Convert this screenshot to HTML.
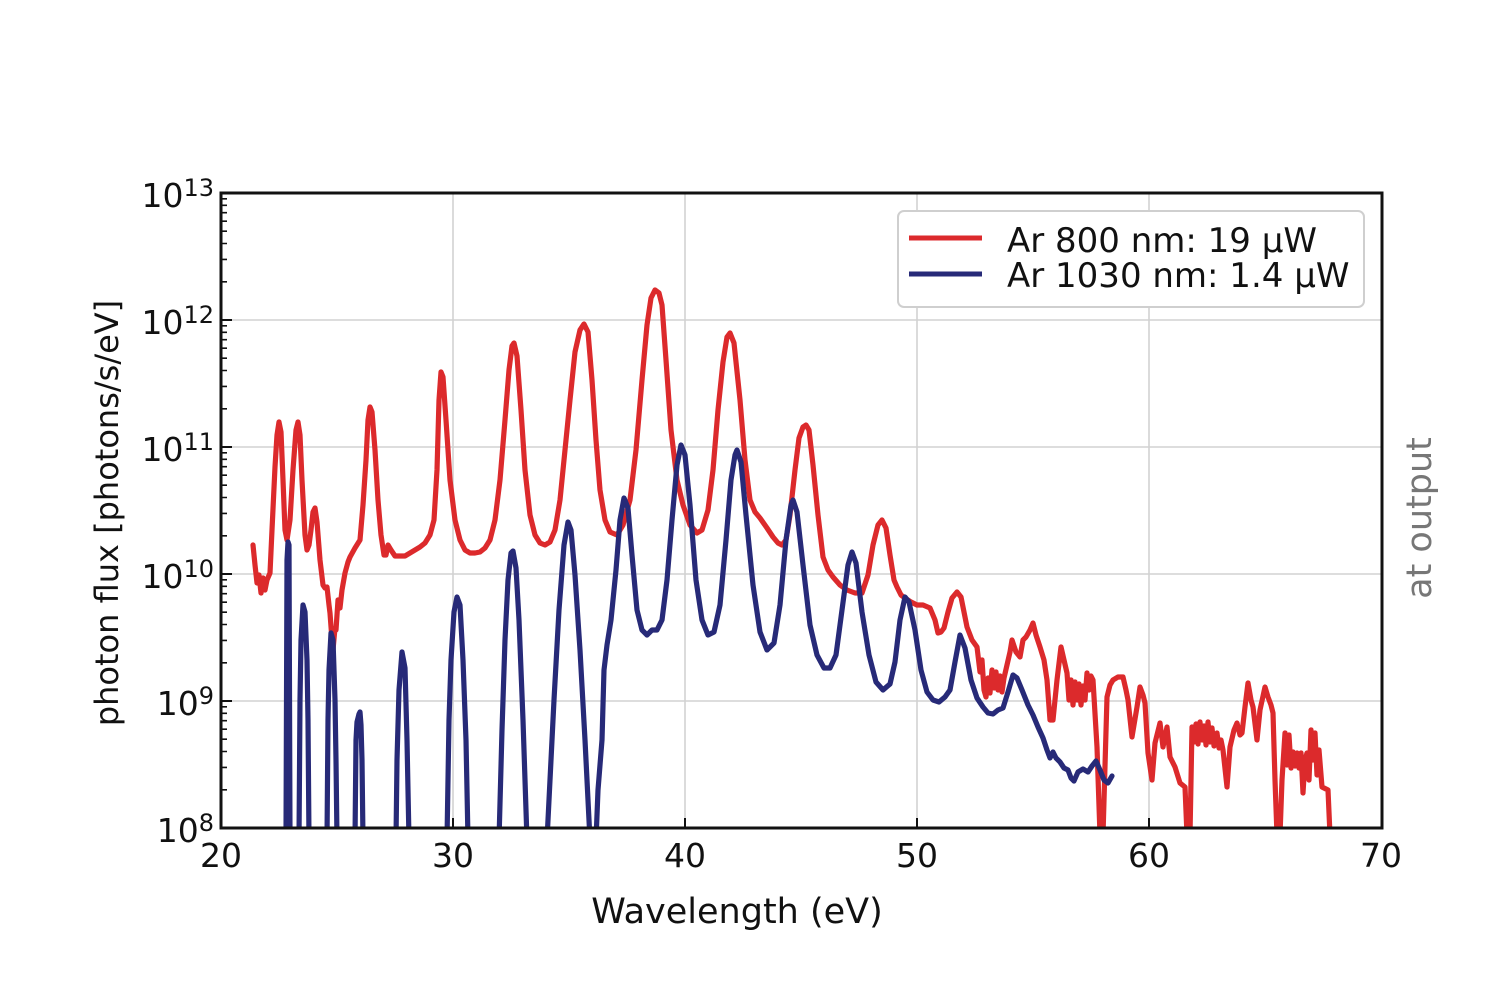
<!DOCTYPE html>
<html><head><meta charset="utf-8"><style>
html,body{margin:0;padding:0;background:#fff;}
svg{display:block;}
text{font-family:"DejaVu Sans","Liberation Sans",sans-serif;fill:#111;}
</style></head><body>
<svg width="1500" height="1000" viewBox="0 0 1500 1000" xmlns="http://www.w3.org/2000/svg">
<defs><clipPath id="pa"><rect x="221" y="193" width="1161" height="635"/></clipPath></defs>
<rect x="0" y="0" width="1500" height="1000" fill="#fff"/>
<!-- grid -->
<g stroke="#d2d2d2" stroke-width="1.6">
<line x1="453" y1="193" x2="453" y2="828"/><line x1="685" y1="193" x2="685" y2="828"/>
<line x1="917" y1="193" x2="917" y2="828"/><line x1="1149" y1="193" x2="1149" y2="828"/>
<line x1="221" y1="320" x2="1382" y2="320"/><line x1="221" y1="447" x2="1382" y2="447"/>
<line x1="221" y1="574" x2="1382" y2="574"/><line x1="221" y1="701" x2="1382" y2="701"/>
</g>
<g clip-path="url(#pa)" fill="none" stroke-linejoin="round" stroke-linecap="round" stroke-width="5.2">
<path stroke="#dc2a2c" d="M253,545 L255,565 L257,583 L259,575 L261,593 L263,578 L265,590 L267,580 L270,573 L272,530 L275,467 L277,435 L279,422 L281,432 L283,480 L285,530 L287,540 L290,520 L293,470 L296,430 L298,422 L300,435 L302,480 L305,535 L307,550 L309,545 L311,530 L313,512 L315,508 L317,522 L320,560 L323,585 L325,588 L327,587 L329,605 L330,613 L332,640 L333,650 L335,628 L336,630 L338,600 L340,608 L342,590 L345,573 L348,562 L350,557 L355,548 L360,540 L363,505 L366,460 L368,420 L370,407 L372,412 L375,450 L378,500 L381,535 L384,555 L386,555 L388,545 L391,550 L395,556 L400,556 L405,556 L410,553 L415,550 L420,547 L425,543 L430,535 L434,520 L437,470 L439,400 L441,372 L443,377 L446,420 L450,480 L455,520 L460,540 L465,550 L470,553 L475,553 L480,552 L485,548 L490,540 L495,520 L500,480 L505,420 L509,370 L512,346 L514,343 L517,356 L521,410 L525,470 L530,515 L535,535 L540,543 L545,545 L550,542 L555,530 L560,500 L565,450 L570,400 L575,352 L580,330 L584,324 L588,332 L592,380 L596,440 L600,490 L605,520 L610,532 L617,535 L623,525 L630,500 L636,450 L642,380 L647,325 L651,298 L655,290 L659,293 L662,305 L666,360 L671,430 L677,480 L683,505 L690,525 L697,533 L702,530 L708,510 L713,470 L718,410 L723,362 L727,337 L730,333 L734,343 L740,400 L745,460 L750,500 L755,512 L760,518 L767,528 L773,537 L778,543 L782,545 L786,540 L790,515 L795,470 L799,438 L803,427 L806,425 L809,430 L813,465 L818,515 L823,557 L828,570 L833,577 L840,585 L847,590 L855,593 L862,593 L868,575 L873,545 L878,525 L882,520 L886,528 L890,555 L894,580 L897,587 L901,595 L905,598 L911,602 L917,605 L923,605 L930,608 L935,620 L938,633 L941,632 L944,628 L948,612 L952,598 L957,592 L961,597 L964,612 L967,627 L972,640 L977,647 L980,672 L982,660 L984,690 L986,697 L988,678 L990,693 L992,670 L994,688 L996,672 L998,690 L1000,676 L1002,692 L1004,678 L1007,665 L1010,652 L1012,640 L1016,652 L1020,657 L1023,640 L1026,637 L1030,630 L1033,623 L1036,635 L1040,647 L1044,660 L1047,680 L1050,720 L1053,720 L1057,680 L1061,647 L1064,660 L1067,673 L1069,700 L1071,680 L1073,705 L1075,682 L1077,700 L1079,684 L1081,705 L1083,686 L1085,700 L1087,673 L1089,690 L1091,676 L1093,680 L1097,747 L1100,835 L1103,835 L1107,697 L1110,685 L1113,680 L1118,677 L1123,677 L1126,690 L1128,700 L1132,737 L1137,707 L1140,687 L1143,695 L1145,703 L1148,753 L1152,780 L1155,743 L1160,723 L1163,747 L1167,727 L1170,757 L1175,767 L1180,783 L1185,787 L1187,835 L1190,835 L1192,727 L1194,742 L1196,724 L1198,744 L1200,722 L1202,740 L1204,726 L1206,745 L1208,722 L1210,742 L1212,728 L1214,746 L1217,733 L1219,748 L1221,740 L1223,750 L1227,787 L1230,747 L1234,730 L1237,723 L1240,735 L1242,733 L1245,707 L1248,683 L1251,700 L1253,707 L1257,740 L1260,710 L1265,687 L1268,697 L1271,705 L1273,713 L1275,780 L1277,835 L1280,835 L1282,780 L1285,733 L1287,765 L1289,735 L1291,768 L1293,752 L1295,766 L1297,753 L1299,768 L1301,753 L1303,793 L1305,760 L1307,753 L1309,780 L1311,730 L1313,760 L1315,733 L1317,775 L1319,750 L1322,787 L1328,790 L1330,835"/>
<path stroke="#272a78" d="M286,840 L287,560 L288,542 L289,545 L290,840 M299,840 L300,700 L301,640 L303,605 L305,612 L307,660 L308,720 L309,840 M327,840 L328,720 L329,670 L331,633 L333,640 L335,700 L336,760 L337,840 M355,840 L356,740 L357,722 L358,718 L359,714 L360,712 L361,725 L362,760 L363,840 M396,840 L397,760 L399,690 L402,652 L405,668 L407,740 L409,840 M447,840 L449,720 L451,660 L454,612 L457,597 L460,605 L463,660 L466,740 L468,840 M499,840 L502,730 L505,640 L508,580 L511,553 L513,551 L516,568 L519,620 L523,720 L527,840 M547,840 L550,780 L554,700 L559,610 L564,545 L568,522 L571,530 L575,575 L580,650 L585,740 L590,840 M596,840 L598,790 L600,765 L602,740 L604,670 L607,645 L611,620 L616,570 L620,520 L624,498 L628,508 L632,555 L637,610 L642,630 L647,635 L652,630 L657,630 L662,620 L667,580 L672,520 L677,465 L681,445 L685,455 L690,505 L696,580 L702,620 L708,635 L714,632 L720,605 L726,540 L731,480 L735,455 L737,450 L741,462 L746,515 L753,585 L760,632 L767,650 L774,643 L780,605 L786,540 L791,505 L793,500 L797,512 L803,565 L810,625 L817,655 L824,668 L830,668 L836,655 L842,610 L848,565 L852,552 L856,563 L862,612 L869,655 L876,682 L883,690 L890,684 L895,662 L900,620 L905,597 L909,602 L915,630 L921,670 L927,692 L933,700 L939,702 L945,697 L950,690 L955,662 L960,635 L965,648 L971,680 L977,698 L983,707 L988,713 L993,714 L998,710 L1003,708 L1008,692 L1013,675 L1017,678 L1022,690 L1028,705 L1033,715 L1038,727 L1043,738 L1047,750 L1050,758 L1053,752 L1056,758 L1060,762 L1064,768 L1068,770 L1071,778 L1074,781 L1078,772 L1083,769 L1088,772 L1092,766 L1096,761 L1100,770 L1104,780 L1108,783 L1112,776"/>
</g>
<!-- ticks -->
<g stroke="#111" stroke-width="2">
<line x1="453" y1="828" x2="453" y2="818"/><line x1="685" y1="828" x2="685" y2="818"/>
<line x1="917" y1="828" x2="917" y2="818"/><line x1="1149" y1="828" x2="1149" y2="818"/>
<line x1="221" y1="320" x2="232" y2="320"/><line x1="221" y1="447" x2="232" y2="447"/>
<line x1="221" y1="574" x2="232" y2="574"/><line x1="221" y1="701" x2="232" y2="701"/>
</g>
<g stroke="#111" stroke-width="1.6">
<path d="M221,789.8h6M221,767.4h6M221,751.5h6M221,739.2h6M221,729.2h6M221,720.7h6M221,713.3h6M221,706.8h6
M221,662.8h6M221,640.4h6M221,624.5h6M221,612.2h6M221,602.2h6M221,593.7h6M221,586.3h6M221,579.8h6
M221,535.8h6M221,513.4h6M221,497.5h6M221,485.2h6M221,475.2h6M221,466.7h6M221,459.3h6M221,452.8h6
M221,408.8h6M221,386.4h6M221,370.5h6M221,358.2h6M221,348.2h6M221,339.7h6M221,332.3h6M221,325.8h6
M221,281.8h6M221,259.4h6M221,243.5h6M221,231.2h6M221,221.2h6M221,212.7h6M221,205.3h6M221,198.8h6"/>
</g>
<rect x="221" y="193" width="1161" height="635" fill="none" stroke="#111" stroke-width="3"/>
<!-- legend -->
<rect x="898" y="211" width="466" height="96" rx="6" ry="6" fill="#fff" stroke="#cfcfcf" stroke-width="2"/>
<line x1="909" y1="238" x2="982" y2="238" stroke="#dc2a2c" stroke-width="5"/>
<line x1="909" y1="274" x2="982" y2="274" stroke="#272a78" stroke-width="5"/>
<text x="1007" y="252" font-size="34">Ar 800 nm: 19 μW</text>
<text x="1007" y="287" font-size="34">Ar 1030 nm: 1.4 μW</text>
<!-- y tick labels -->
<g font-size="33" text-anchor="end">
<text x="214" y="207">10<tspan dy="-11" font-size="24">13</tspan></text>
<text x="214" y="334">10<tspan dy="-11" font-size="24">12</tspan></text>
<text x="214" y="461">10<tspan dy="-11" font-size="24">11</tspan></text>
<text x="214" y="588">10<tspan dy="-11" font-size="24">10</tspan></text>
<text x="214" y="715">10<tspan dy="-11" font-size="24">9</tspan></text>
<text x="214" y="842">10<tspan dy="-11" font-size="24">8</tspan></text>
</g>
<!-- x tick labels -->
<g font-size="33" text-anchor="middle">
<text x="221" y="867">20</text><text x="453" y="867">30</text><text x="685" y="867">40</text>
<text x="917" y="867">50</text><text x="1149" y="867">60</text><text x="1381" y="867">70</text>
</g>
<text x="737" y="923" font-size="35" text-anchor="middle">Wavelength (eV)</text>
<text transform="translate(118,513) rotate(-90)" font-size="32" text-anchor="middle">photon flux [photons/s/eV]</text>
<text transform="translate(1431,518) rotate(-90)" font-size="35" text-anchor="middle" style="fill:#777">at output</text>
</svg>
</body></html>
